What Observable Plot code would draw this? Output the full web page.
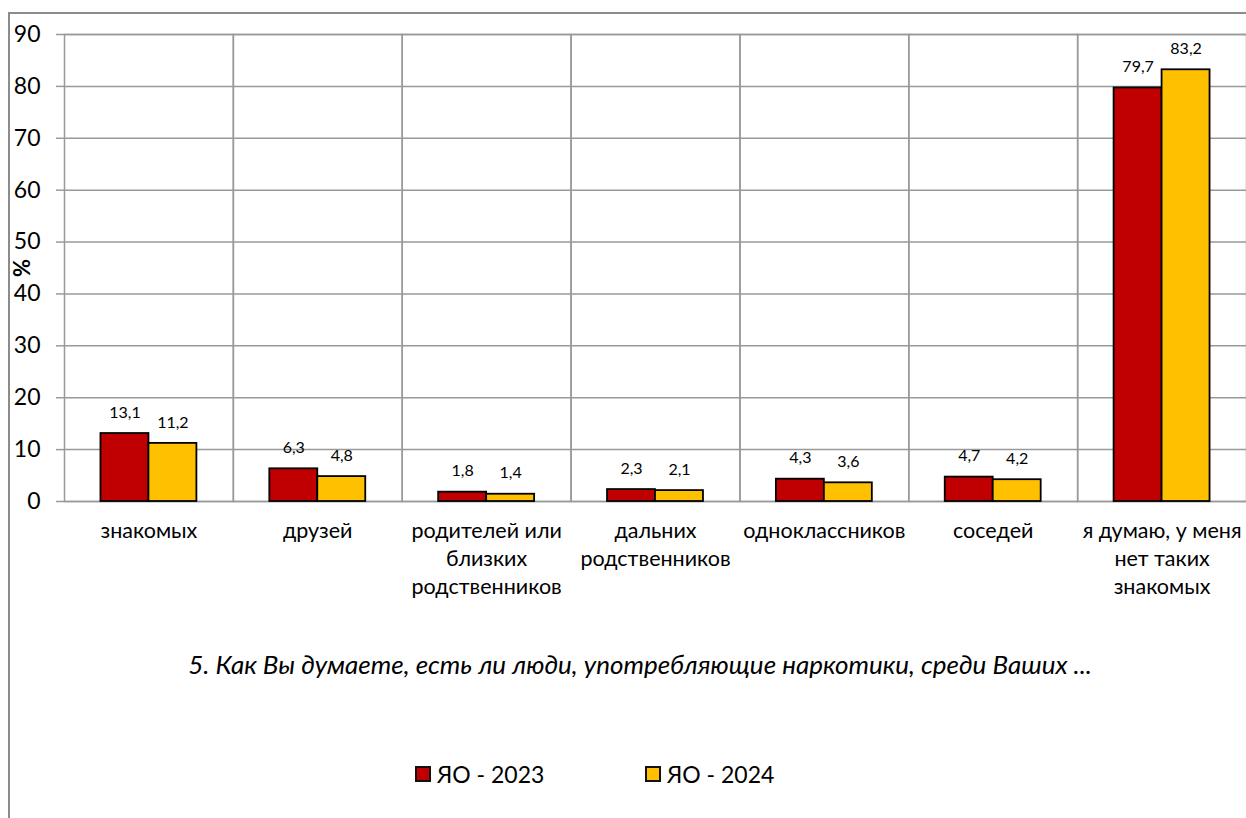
<!DOCTYPE html>
<html>
<head>
<meta charset="utf-8">
<script src="https://cdn.jsdelivr.net/npm/d3@7"></script>
<script src="https://cdn.jsdelivr.net/npm/@observablehq/plot@0.6"></script>
<style>
  body { margin: 0; background: #fff; font-family: Lato, "Open Sans", sans-serif; }
  #wrap { position: relative; width: 1246px; height: 818px; overflow: hidden; }
  #border { position: absolute; left: 8px; top: 12px; right: -4px; bottom: -4px; border-top: 2px solid #8c8c8c; border-left: 2px solid #8c8c8c; }
  #chart { position: absolute; left: 0; top: 0; }
  #ylabel { position: absolute; left: 21px; top: 268px; transform: translate(-50%, -50%) rotate(-90deg); font-weight: bold; font-size: 22px; }
  #caption { position: absolute; left: 0; width: 1280px; top: 648px; text-align: center; font-style: italic; font-size: 26px; white-space: nowrap; }
  #legend { position: absolute; top: 760px; left: 0; width: 1246px; font-size: 23px; }
  .item { position: absolute; display: flex; align-items: center; }
  .sw { border: 2px solid #111; margin-right: 6px; box-sizing: border-box; width: 16px; height: 16px; }
</style>
</head>
<body>
<div id="wrap">
  <div id="border"></div>
  <div id="chart"></div>
  <div id="ylabel">%</div>
  <div id="caption"></div>
  <div id="legend"></div>
</div>
<script>
const categories = ["знакомых", "друзей", "родителей или близких родственников", "дальних родственников", "одноклассников", "соседей", "я думаю, у меня нет таких знакомых"];
const categoryLabels = ["знакомых", "друзей", "родителей или\nблизких\nродственников", "дальних\nродственников", "одноклассников", "соседей", "я думаю, у меня\nнет таких\nзнакомых"];
const seriesNames = ["ЯО - 2023", "ЯО - 2024"];
const values2023 = [13.1, 6.3, 1.8, 2.3, 4.3, 4.7, 79.7];
const values2024 = [11.2, 4.8, 1.4, 2.1, 3.6, 4.2, 83.2];
const seriesColors = ["#C00000", "#FFC000"];
const yTicks = [0, 10, 20, 30, 40, 50, 60, 70, 80, 90];
const captionText = "5. Как Вы думаете, есть ли люди, употребляющие наркотики, среди Ваших ...";

const data = [];
categories.forEach((c, i) => {
  data.push({cat: c, series: seriesNames[0], value: values2023[i]});
  data.push({cat: c, series: seriesNames[1], value: values2024[i]});
});
const labelOf = new Map(categories.map((c, i) => [c, categoryLabels[i]]));
const fmt = v => v.toFixed(1).replace(".", ",");
const font = "Lato, 'Open Sans', sans-serif";

const chart = Plot.plot({
  width: 1246,
  height: 620,
  marginLeft: 64,
  marginRight: 0,
  marginTop: 34,
  marginBottom: 119,
  style: {fontFamily: font, color: "#000", background: "transparent"},
  fx: {domain: categories, padding: 0, round: false, label: null},
  x: {domain: seriesNames, paddingInner: 0, paddingOuter: 0.76, round: false, axis: null},
  y: {domain: [0, 90], ticks: yTicks, label: null},
  color: {domain: seriesNames, range: seriesColors},
  marks: [
    Plot.gridY(yTicks, {stroke: "#999", strokeOpacity: 1, strokeWidth: 1.5}),
    Plot.frame({stroke: "#999", strokeWidth: 1.5}),
    Plot.axisY(yTicks, {tickSize: 8, tickPadding: 16, fontSize: 23, tickFormat: d => d, stroke: "#999", strokeWidth: 1.5, label: null}),
    Plot.axisFx({anchor: "bottom", tickSize: 0, tickPadding: 17, fontSize: 21.5, lineHeight: 1.3, tickFormat: c => labelOf.get(c), label: null}),
    Plot.barY(data, {fx: "cat", x: "series", y: "value", fill: "series", stroke: "#000", strokeWidth: 1.8}),
    Plot.text(data, {fx: "cat", x: "series", y: "value", text: d => fmt(d.value), dy: -21, fontSize: 16})
  ]
});
document.getElementById("chart").appendChild(chart);
document.getElementById("caption").textContent = captionText;

const legend = document.getElementById("legend");
const lefts = [415, 645];
seriesNames.forEach((s, i) => {
  const it = document.createElement("div");
  it.className = "item";
  it.style.left = lefts[i] + "px";
  const sw = document.createElement("span");
  sw.className = "sw";
  sw.style.background = seriesColors[i];
  const t = document.createElement("span");
  t.textContent = s;
  it.appendChild(sw); it.appendChild(t);
  legend.appendChild(it);
});
</script>
</body>
</html>
